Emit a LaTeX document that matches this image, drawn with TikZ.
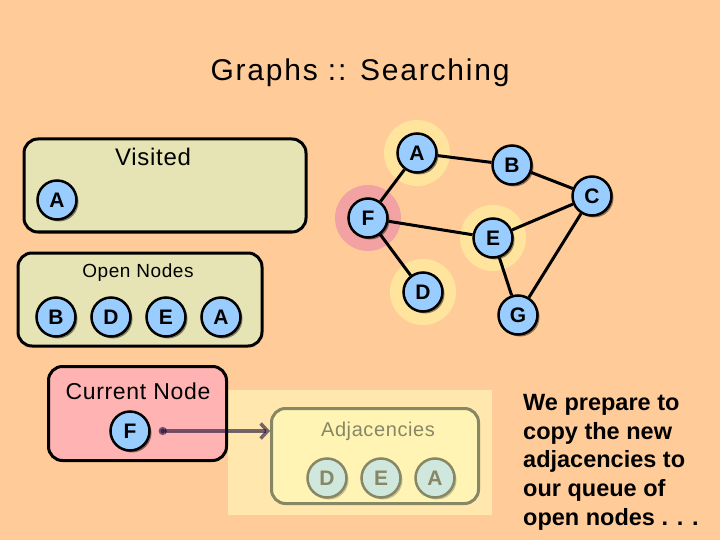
\documentclass[tikz,border=0pt]{standalone}
\usepackage{fontspec}
\setmainfont{Liberation Sans}
\newfontfamily\titlefont[LetterSpace=6]{Liberation Sans}
\newfontfamily\labelfont[LetterSpace=3]{Liberation Sans}
\usetikzlibrary{shadows,arrows.meta}
\definecolor{bgorange}{RGB}{255,204,153}
\definecolor{listkhaki}{RGB}{230,228,180}
\definecolor{nodeblue}{RGB}{153,204,255}
\definecolor{currentpink}{RGB}{255,179,179}
\definecolor{haloyellow}{RGB}{255,228,158}
\definecolor{halopink}{RGB}{242,162,162}
\definecolor{adjfill}{RGB}{255,233,167}
\definecolor{fadecolor}{RGB}{255,255,191}
\definecolor{pointerink}{RGB}{10,0,50}
\pgfdeclarelayer{paper}
\pgfdeclarelayer{halos}
\pgfdeclarelayer{edges}
\pgfsetlayers{paper,halos,edges,main}
\tikzset{
  vertex/.style={circle, draw=black, line width=2.5pt, fill=nodeblue,
    minimum size=39pt, inner sep=0pt, font=\bfseries\fontsize{21}{24}\selectfont,
    drop shadow={shadow xshift=2pt, shadow yshift=-2pt, fill=black, opacity=0.45}},
  halo/.style={circle, minimum size=66pt, inner sep=0pt},
  edge/.style={line width=3pt},
  listbox/.style={draw=black, line width=3pt, rounded corners=14pt, fill=listkhaki},
  listlabel/.style={inner sep=0pt, font=\labelfont\fontsize{#1}{#1}\selectfont},
  pointer/.style={line width=3.5pt, draw=pointerink, fill=pointerink, draw opacity=0.56, fill opacity=0.56,
    {Circle[length=8pt]}-{Straight Barb[length=7pt, width=15pt]}, shorten <=8pt},
}
\begin{document}
\begin{tikzpicture}[x=1pt, y=-1pt]
    \begin{pgfonlayer}{paper}
    \fill[bgorange] (0,0) rectangle (720,540);
    \end{pgfonlayer}
    \useasboundingbox (0,0) rectangle (720,540);
    \node[font=\titlefont\fontsize{30}{36}\selectfont] (title) at (360,72.5) {Graphs :: Searching};
    % visited list
    \node[listbox, minimum width=282pt, minimum height=93pt] (visitedbox) at (165,185.5) {};
    \node[listlabel=24] (visitedlabel) at (153,157) {Visited};
    \node[vertex] (vA) at (57,200) {A};
    % open list
    \node[listbox, minimum width=244pt, minimum height=93pt] (openbox) at (140,299.5) {};
    \node[listlabel=19] (openlabel) at (138,273) {Open Nodes};
    \node[vertex] (oB) at (56,317) {B};
    \node[vertex] (oD) at (111,317) {D};
    \node[vertex] (oE) at (166,317) {E};
    \node[vertex] (oA) at (221,317) {A};
    % the graph
    \node[vertex] (A) at (417,153) {A};
    \node[vertex] (B) at (512,165) {B};
    \node[vertex] (C) at (592,196) {C};
    \node[vertex] (F) at (368,218) {F};
    \node[vertex] (E) at (493,238) {E};
    \node[vertex] (D) at (423,292) {D};
    \node[vertex] (G) at (518,315) {G};
    \begin{pgfonlayer}{halos}
    \node[halo, fill=haloyellow] (hA) at (A) {};
    \node[halo, fill=halopink] (hF) at (F) {};
    \node[halo, fill=haloyellow] (hE) at (E) {};
    \node[halo, fill=haloyellow] (hD) at (D) {};
    \end{pgfonlayer}
    \begin{pgfonlayer}{edges}
    \draw[edge] (A) -- (B);
    \draw[edge] (A) -- (F);
    \draw[edge] (B) -- (C);
    \draw[edge] (C) -- (E);
    \draw[edge] (C) -- (G);
    \draw[edge] (F) -- (E);
    \draw[edge] (F) -- (D);
    \draw[edge] (E) -- (G);
    \end{pgfonlayer}
    % adjacencies, faded
    \node[listbox, fill=adjfill, minimum width=207pt, minimum height=95pt] (adjbox) at (375,456) {};
    \node[listlabel=20] (adjlabel) at (378,431) {Adjacencies};
    \node[vertex] (aD) at (327,478) {D};
    \node[vertex] (aE) at (381,478) {E};
    \node[vertex] (aA) at (435,478) {A};
    \fill[fadecolor, fill opacity=0.53] (228,390) rectangle (492,515);
    % current node
    \node[listbox, fill=currentpink, minimum width=178pt, minimum height=94pt] (currentbox) at (137.5,413.5) {};
    \node[listlabel=23] (currentlabel) at (138,391) {Current Node};
    \node[vertex] (cF) at (130,431) {F};
    \draw[pointer] (cF.east) -- (cF.east -| adjbox.west);
    \node[anchor=north west, inner sep=0pt, align=left,
      font=\bfseries\fontsize{23.5}{28.7}\selectfont] (note) at (523,394)
      {We prepare to\\copy the new\\adjacencies to\\our queue of\\open nodes . . .};
\end{tikzpicture}
\end{document}
